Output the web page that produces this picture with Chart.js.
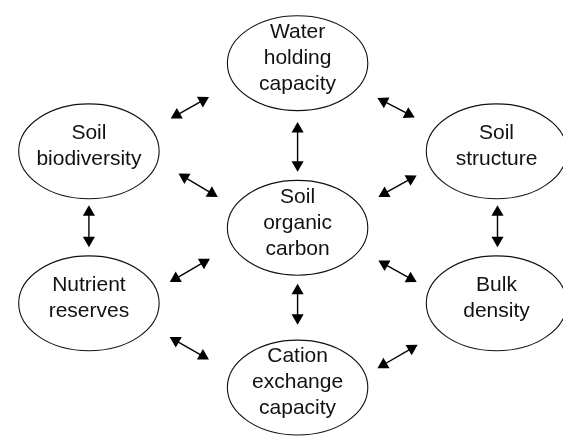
<!DOCTYPE html>
<html>
<head>
<meta charset="utf-8">
<script src="https://cdn.jsdelivr.net/npm/chart.js@4.4.1/dist/chart.umd.min.js"></script>
<style>
  html, body { margin: 0; padding: 0; background: #fff; }
  #wrap { width: 563px; height: 442px; }
</style>
</head>
<body>
<div id="wrap"><canvas id="diagram"></canvas></div>
<script>
// nodes of the diagram (data units: 0..563 across, 0..442 down)
const nodeLabels = [
    ['Water', 'holding', 'capacity'],
    ['Soil', 'biodiversity'],
    ['Soil', 'structure'],
    ['Soil', 'organic', 'carbon'],
    ['Nutrient', 'reserves'],
    ['Bulk', 'density'],
    ['Cation', 'exchange', 'capacity']
];
const nodeX = [298, 84, 502, 298, 84, 502, 298];
const nodeY = [58, 149, 149, 228, 306, 306, 393];

// double headed arrows, tip to tip
const arrowX1 = [168, 380, 176, 381, 167, 381, 167, 380, 298, 84, 503, 298];
const arrowY1 = [115, 94, 172, 196, 284, 262, 341, 373, 119, 205, 205, 286];
const arrowX2 = [207, 418, 216, 420, 208, 420, 207, 421, 298, 84, 503, 298];
const arrowY2 = [93, 114, 196, 174, 260, 284, 364, 349, 170, 248, 248, 328];

const ELLIPSE_RX = 72;
const ELLIPSE_RY = 49;
const HEAD = 7;

function headAngle(x, y, ox, oy) {
    // rotation (deg) so the triangle points from (ox,oy) towards (x,y); y grows downwards
    return Math.atan2(x - ox, -(y - oy)) * 180 / Math.PI;
}

const arrowDatasets = arrowX1.map((x1, i) => {
    const y1 = arrowY1[i], x2 = arrowX2[i], y2 = arrowY2[i];
    const len = Math.hypot(x2 - x1, y2 - y1);
    const ux = (x2 - x1) / len, uy = (y2 - y1) / len;
    // triangle points sit at their centre, so pull them in from the tips
    return {
        data: [
            { x: x1 + ux * HEAD, y: y1 + uy * HEAD },
            { x: x2 - ux * HEAD, y: y2 - uy * HEAD }
        ],
        showLine: true,
        borderColor: '#000',
        borderWidth: 1.4,
        pointStyle: 'triangle',
        pointRadius: HEAD,
        pointBorderWidth: 0,
        pointBackgroundColor: '#000',
        pointBorderColor: '#000',
        pointRotation: [headAngle(x1, y1, x2, y2), headAngle(x2, y2, x1, y1)]
    };
});

const nodesPlugin = {
    id: 'nodes',
    afterDatasetsDraw(chart) {
        const { ctx, scales: { x, y } } = chart;
        ctx.save();
        nodeLabels.forEach((lines, i) => {
            const cx = x.getPixelForValue(nodeX[i]);
            const cy = y.getPixelForValue(nodeY[i]);
            const rx = x.getPixelForValue(nodeX[i] + ELLIPSE_RX) - cx;
            const ry = y.getPixelForValue(nodeY[i] + ELLIPSE_RY) - cy;
            ctx.beginPath();
            ctx.ellipse(cx, cy, rx, ry, 0, 0, Math.PI * 2);
            ctx.fillStyle = '#fff';
            ctx.fill();
            ctx.lineWidth = 1.1;
            ctx.strokeStyle = '#111';
            ctx.stroke();

            ctx.fillStyle = '#111';
            ctx.font = '21px "Liberation Sans", Arial, sans-serif';
            ctx.textAlign = 'center';
            ctx.textBaseline = 'middle';
            const lh = 26;
            const top = cy - 5 - (lines.length - 1) * lh / 2;
            lines.forEach((t, k) => ctx.fillText(t, cx, top + k * lh));
        });
        ctx.restore();
    }
};

new Chart(document.getElementById('diagram'), {
    type: 'scatter',
    data: { datasets: arrowDatasets },
    options: {
        responsive: true,
        maintainAspectRatio: false,
        animation: false,
        layout: { padding: 0 },
        plugins: { legend: { display: false }, tooltip: { enabled: false } },
        scales: {
            x: { type: 'linear', min: 0, max: 563, display: false },
            y: { type: 'linear', min: 0, max: 442, reverse: true, display: false }
        }
    },
    plugins: [nodesPlugin]
});
</script>
</body>
</html>
